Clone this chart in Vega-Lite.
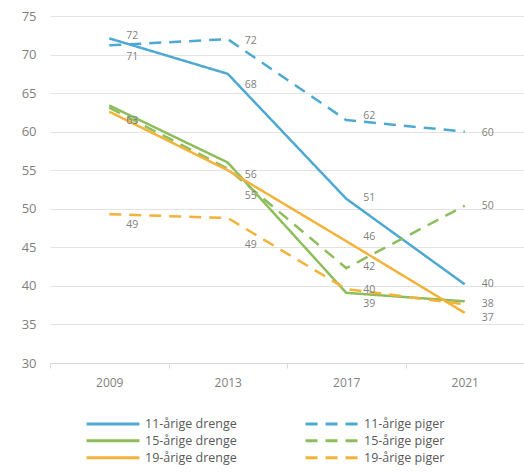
{
  "$schema": "https://vega.github.io/schema/vega-lite/v6.json",
  "width": 474,
  "height": 347,
  "autosize": "none",
  "padding": {"left": 50, "top": 16, "right": 0, "bottom": 112},
  "background": "white",
  "config": {
    "view": {"stroke": null},
    "font": "Open Sans",
    "axis": {"labelColor": "#7f7f7f", "labelFont": "Open Sans", "title": null}
  },
  "datasets": {
    "series": [
      {"year": "2009", "group": "11-årige drenge", "value": 72.1},
      {"year": "2013", "group": "11-årige drenge", "value": 67.5},
      {"year": "2017", "group": "11-årige drenge", "value": 51.3},
      {"year": "2021", "group": "11-årige drenge", "value": 40.2},
      {"year": "2009", "group": "11-årige piger", "value": 71.2},
      {"year": "2013", "group": "11-årige piger", "value": 72.0},
      {"year": "2017", "group": "11-årige piger", "value": 61.5},
      {"year": "2021", "group": "11-årige piger", "value": 60.0},
      {"year": "2009", "group": "15-årige drenge", "value": 63.4},
      {"year": "2013", "group": "15-årige drenge", "value": 56.0},
      {"year": "2017", "group": "15-årige drenge", "value": 39.1},
      {"year": "2021", "group": "15-årige drenge", "value": 38.0},
      {"year": "2009", "group": "15-årige piger", "value": 63.1},
      {"year": "2013", "group": "15-årige piger", "value": 55.2},
      {"year": "2017", "group": "15-årige piger", "value": 42.3},
      {"year": "2021", "group": "15-årige piger", "value": 50.4},
      {"year": "2009", "group": "19-årige drenge", "value": 62.6},
      {"year": "2013", "group": "19-årige drenge", "value": 55.0},
      {"year": "2017", "group": "19-årige drenge", "value": 45.8},
      {"year": "2021", "group": "19-årige drenge", "value": 36.5},
      {"year": "2009", "group": "19-årige piger", "value": 49.3},
      {"year": "2013", "group": "19-årige piger", "value": 48.8},
      {"year": "2017", "group": "19-årige piger", "value": 39.6},
      {"year": "2021", "group": "19-årige piger", "value": 37.6}
    ],
    "labels": [
      {"year": "2009", "text": "72", "at": 72.4},
      {"year": "2009", "text": "71", "at": 69.7},
      {"year": "2009", "text": "63", "at": 61.4},
      {"year": "2009", "text": "49", "at": 47.9},
      {"year": "2013", "text": "72", "at": 71.8},
      {"year": "2013", "text": "68", "at": 66.1},
      {"year": "2013", "text": "56", "at": 54.4},
      {"year": "2013", "text": "55", "at": 51.7},
      {"year": "2013", "text": "49", "at": 45.3},
      {"year": "2017", "text": "62", "at": 62.0},
      {"year": "2017", "text": "51", "at": 51.4},
      {"year": "2017", "text": "46", "at": 46.4},
      {"year": "2017", "text": "42", "at": 42.4},
      {"year": "2017", "text": "40", "at": 39.5},
      {"year": "2017", "text": "39", "at": 37.7},
      {"year": "2021", "text": "60", "at": 59.8},
      {"year": "2021", "text": "50", "at": 50.3},
      {"year": "2021", "text": "40", "at": 40.2},
      {"year": "2021", "text": "38", "at": 37.7},
      {"year": "2021", "text": "37", "at": 35.8}
    ]
  },
  "layer": [
    {
      "data": {"name": "series"},
      "mark": {"type": "line", "strokeWidth": 2.5},
      "encoding": {
        "x": {
          "field": "year", "type": "ordinal",
          "scale": {"type": "band", "paddingInner": 0, "paddingOuter": 0},
          "axis": {
            "labelAngle": 0, "labelFontSize": 12, "labelPadding": 9,
            "domain": true, "domainColor": "#d9d9d9", "domainWidth": 1,
            "ticks": true, "tickBand": "extent", "tickColor": "#d9d9d9", "tickSize": 5,
            "grid": false
          }
        },
        "y": {
          "field": "value", "type": "quantitative",
          "scale": {"domain": [30, 75], "nice": false, "zero": false},
          "axis": {
            "values": [30, 35, 40, 45, 50, 55, 60, 65, 70, 75],
            "labelFontSize": 13, "labelPadding": 14, "labelOverlap": false,
            "labelFlush": false,
            "domain": false, "ticks": false,
            "grid": true, "gridColor": "#e3e3e3", "gridWidth": 1
          }
        },
        "color": {
          "field": "group", "type": "nominal",
          "scale": {
            "domain": ["11-årige drenge", "15-årige drenge", "19-årige drenge", "11-årige piger", "15-årige piger", "19-årige piger"],
            "range": ["#4DA9D1", "#8EBD5C", "#F3B23A", "#4DA9D1", "#8EBD5C", "#F3B23A"]
          },
          "legend": {
            "title": null, "orient": "none", "legendX": 35, "legendY": 400,
            "columns": 2, "columnPadding": 67, "rowPadding": 1,
            "clipHeight": 15.5,
            "symbolType": "stroke", "symbolSize": 2800, "symbolStrokeWidth": 3,
            "labelFontSize": 12.5, "labelColor": "#595959", "labelFont": "Open Sans",
            "labelLimit": 200, "symbolOffset": 0
          }
        },
        "strokeDash": {
          "field": "group", "type": "nominal",
          "scale": {
            "domain": ["11-årige drenge", "15-årige drenge", "19-årige drenge", "11-årige piger", "15-årige piger", "19-årige piger"],
            "range": [[1, 0], [1, 0], [1, 0], [12, 8], [12, 8], [12, 8]]
          },
          "legend": null
        }
      }
    },
    {
      "data": {"name": "labels"},
      "mark": {"type": "text", "align": "left", "baseline": "middle", "dx": 17, "fontSize": 10.5, "color": "#7f7f7f", "font": "Open Sans"},
      "encoding": {
        "x": {
          "field": "year", "type": "ordinal",
          "axis": {
            "labelAngle": 0, "labelFontSize": 12, "labelPadding": 9,
            "domain": true, "domainColor": "#d9d9d9", "domainWidth": 1,
            "ticks": true, "tickBand": "extent", "tickColor": "#d9d9d9", "tickSize": 5,
            "grid": false
          }
        },
        "y": {
          "field": "at", "type": "quantitative",
          "axis": {
            "values": [30, 35, 40, 45, 50, 55, 60, 65, 70, 75],
            "labelFontSize": 13, "labelPadding": 14, "labelOverlap": false,
            "labelFlush": false,
            "domain": false, "ticks": false,
            "grid": true, "gridColor": "#e3e3e3", "gridWidth": 1
          }
        },
        "text": {"field": "text"}
      }
    }
  ]
}
